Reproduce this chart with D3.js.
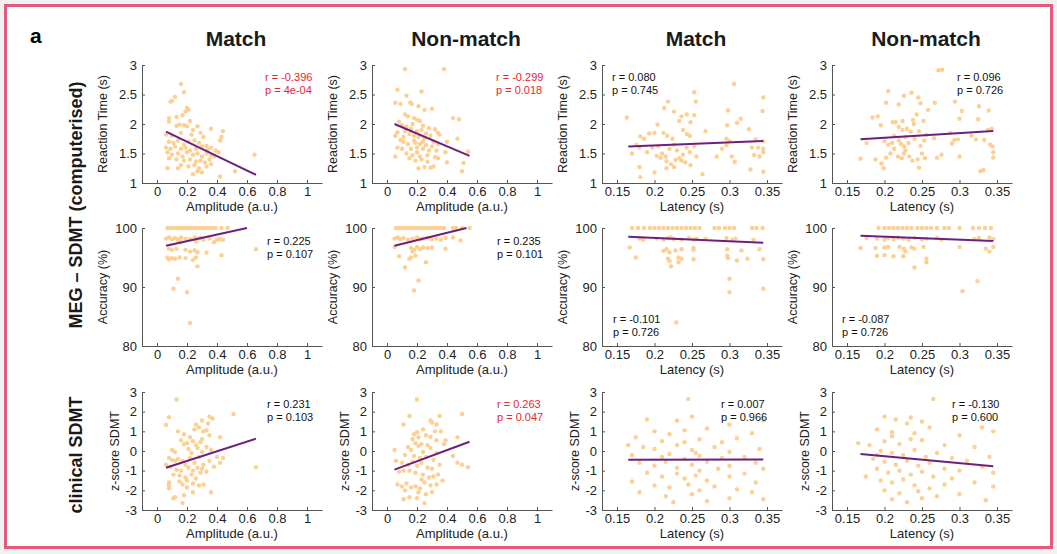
<!DOCTYPE html>
<html>
<head>
<meta charset="utf-8">
<script src="https://cdn.jsdelivr.net/npm/d3@7"></script>
<style>
	body { margin: 0; background: #fff; }
	text { font-family: Arial, "Liberation Sans", sans-serif; }
</style>
</head>
<body>
<svg id="svg_elem"></svg>
<script>
//labels
const colTitles = ['Match', 'Non-match', 'Match', 'Non-match'];
const rowTitles = ['MEG \u2013 SDMT (computerised)', 'clinical SDMT'];
const xLabels = ['Amplitude (a.u.)', 'Amplitude (a.u.)', 'Latency (s)', 'Latency (s)'];
const yLabels = ['Reaction Time (s)', 'Accuracy (%)', 'z-score SDMT'];

//tick values
const ampTicks = [0, 0.2, 0.4, 0.6, 0.8, 1];
const latTicks = [0.15, 0.2, 0.25, 0.3, 0.35];
const rtTicks = [1, 1.5, 2, 2.5, 3];
const accTicks = [80, 90, 100];
const zTicks = [-3, -2, -1, 0, 1, 2, 3];

//correlation stats
const rValues = [[-0.396, -0.299, 0.080, 0.096], [0.225, 0.235, -0.101, -0.087], [0.231, 0.263, 0.007, -0.130]];
const pValues = [['4e-04', '0.018', '0.745', '0.726'], ['0.107', '0.101', '0.726', '0.726'], ['0.103', '0.047', '0.966', '0.600']];

//fitted lines [x0, y0, x1, y1]
const fitLines = [
	[[0.06, 1.87, 0.66, 1.14], [0.05, 2.00, 0.55, 1.46], [0.165, 1.62, 0.345, 1.71], [0.168, 1.74, 0.345, 1.88]],
	[[0.06, 97.0, 0.60, 100.0], [0.05, 97.0, 0.53, 100.0], [0.165, 98.5, 0.345, 97.5], [0.168, 98.7, 0.345, 97.8]],
	[[0.06, -0.85, 0.66, 0.63], [0.05, -0.95, 0.55, 0.47], [0.165, -0.45, 0.345, -0.43], [0.168, -0.15, 0.345, -0.78]]
];

//scatter data [x, y]
const ampMatchRT = [[0.16,2.68],[0.18,2.54],[0.12,2.46],[0.09,2.38],[0.10,2.39],[0.20,2.27],[0.21,2.24],[0.19,2.21],[0.17,2.15],[0.08,2.10],[0.08,2.04],[0.13,2.12],[0.22,2.05],[0.15,1.99],[0.18,1.98],[0.20,1.96],[0.13,1.97],[0.24,1.90],[0.27,1.96],[0.36,1.92],[0.44,1.88],[0.43,1.78],[0.06,1.82],[0.10,1.80],[0.16,1.85],[0.23,1.82],[0.29,1.85],[0.31,1.78],[0.42,1.72],[0.08,1.70],[0.11,1.68],[0.14,1.72],[0.18,1.65],[0.21,1.70],[0.25,1.72],[0.28,1.68],[0.33,1.63],[0.36,1.60],[0.06,1.60],[0.09,1.58],[0.12,1.62],[0.16,1.58],[0.19,1.60],[0.22,1.55],[0.26,1.58],[0.30,1.62],[0.34,1.57],[0.39,1.55],[0.07,1.52],[0.10,1.48],[0.14,1.50],[0.17,1.45],[0.20,1.52],[0.24,1.48],[0.27,1.50],[0.30,1.45],[0.33,1.50],[0.36,1.47],[0.41,1.52],[0.65,1.48],[0.08,1.42],[0.13,1.40],[0.18,1.38],[0.22,1.40],[0.26,1.36],[0.29,1.38],[0.32,1.35],[0.35,1.40],[0.16,1.30],[0.21,1.28],[0.25,1.30],[0.28,1.25],[0.33,1.28],[0.36,1.32],[0.07,1.25],[0.14,1.25],[0.24,1.15],[0.27,1.20],[0.30,1.18],[0.42,1.11],[0.52,1.20],[0.38,1.45]];
const ampNonMatchRT = [[0.12,2.93],[0.38,2.93],[0.07,2.58],[0.13,2.48],[0.23,2.55],[0.055,2.36],[0.09,2.34],[0.155,2.36],[0.165,2.34],[0.21,2.30],[0.25,2.24],[0.30,2.26],[0.12,2.16],[0.14,2.13],[0.18,2.10],[0.20,2.07],[0.22,2.05],[0.08,2.04],[0.44,2.10],[0.48,2.08],[0.10,1.98],[0.13,1.96],[0.17,2.00],[0.24,1.97],[0.28,1.93],[0.32,1.91],[0.34,1.85],[0.35,1.82],[0.07,1.86],[0.15,1.83],[0.18,1.80],[0.21,1.78],[0.25,1.76],[0.29,1.80],[0.055,1.80],[0.09,1.73],[0.11,1.70],[0.14,1.66],[0.19,1.68],[0.22,1.66],[0.26,1.64],[0.31,1.70],[0.34,1.66],[0.47,1.75],[0.40,1.70],[0.39,1.52],[0.54,1.53],[0.055,1.45],[0.13,1.50],[0.17,1.47],[0.20,1.52],[0.22,1.45],[0.27,1.47],[0.32,1.44],[0.34,1.42],[0.07,1.60],[0.10,1.58],[0.16,1.58],[0.20,1.60],[0.24,1.58],[0.28,1.55],[0.21,1.25],[0.25,1.27],[0.29,1.26],[0.31,1.28],[0.51,1.34],[0.50,1.20],[0.40,1.35],[0.19,1.38],[0.23,1.40],[0.15,1.42],[0.27,1.36],[0.30,1.62],[0.12,1.88],[0.16,1.92],[0.20,1.88],[0.26,1.84],[0.11,1.78],[0.24,1.70],[0.18,1.72],[0.33,1.55],[0.23,1.90]];
const latMatchRT = [[0.163,2.11],[0.306,2.68],[0.253,2.54],[0.255,2.38],[0.218,2.38],[0.213,2.27],[0.226,2.21],[0.236,2.13],[0.243,2.16],[0.233,2.05],[0.248,2.03],[0.253,2.15],[0.298,2.23],[0.315,2.09],[0.310,2.02],[0.297,1.98],[0.345,2.45],[0.344,2.22],[0.326,1.91],[0.204,1.99],[0.193,1.84],[0.181,1.79],[0.186,1.75],[0.176,1.65],[0.200,1.85],[0.212,1.85],[0.217,1.80],[0.224,1.75],[0.238,1.90],[0.243,1.83],[0.247,1.80],[0.268,1.88],[0.296,1.75],[0.300,1.71],[0.335,1.74],[0.345,1.71],[0.180,1.60],[0.190,1.52],[0.170,1.50],[0.197,1.60],[0.205,1.62],[0.210,1.50],[0.215,1.45],[0.220,1.58],[0.226,1.65],[0.230,1.55],[0.233,1.42],[0.238,1.48],[0.243,1.60],[0.247,1.52],[0.253,1.62],[0.256,1.45],[0.203,1.46],[0.208,1.43],[0.216,1.37],[0.222,1.32],[0.228,1.39],[0.236,1.38],[0.241,1.35],[0.248,1.30],[0.226,1.27],[0.216,1.25],[0.200,1.18],[0.180,1.27],[0.181,1.10],[0.264,1.15],[0.283,1.45],[0.290,1.58],[0.296,1.64],[0.303,1.45],[0.307,1.36],[0.330,1.60],[0.333,1.47],[0.338,1.60],[0.340,1.45],[0.345,1.58],[0.345,1.52],[0.345,1.19],[0.328,1.23]];
const latNonMatchRT = [[0.272,2.91],[0.277,2.92],[0.205,2.56],[0.236,2.53],[0.245,2.45],[0.248,2.35],[0.219,2.33],[0.202,2.36],[0.226,2.48],[0.267,2.36],[0.258,2.24],[0.294,2.38],[0.300,2.09],[0.303,2.22],[0.326,2.30],[0.325,2.08],[0.339,2.23],[0.184,2.11],[0.191,2.13],[0.195,1.98],[0.211,2.03],[0.215,2.03],[0.224,2.05],[0.238,2.07],[0.243,2.16],[0.239,2.00],[0.252,2.05],[0.219,1.95],[0.224,1.90],[0.230,1.92],[0.235,1.87],[0.246,1.88],[0.176,1.68],[0.200,1.71],[0.205,1.65],[0.213,1.80],[0.219,1.72],[0.222,1.66],[0.228,1.78],[0.232,1.68],[0.240,1.75],[0.248,1.63],[0.253,1.72],[0.256,1.82],[0.266,1.76],[0.288,1.85],[0.293,1.73],[0.298,1.74],[0.316,1.80],[0.322,1.74],[0.333,1.73],[0.338,1.90],[0.343,1.92],[0.341,1.65],[0.344,1.62],[0.345,1.52],[0.345,1.43],[0.168,1.41],[0.188,1.40],[0.196,1.33],[0.199,1.25],[0.202,1.43],[0.208,1.50],[0.213,1.58],[0.218,1.45],[0.223,1.42],[0.228,1.55],[0.233,1.45],[0.237,1.38],[0.244,1.40],[0.250,1.50],[0.254,1.42],[0.226,1.50],[0.246,1.26],[0.270,1.43],[0.276,1.48],[0.300,1.45],[0.290,1.67],[0.328,1.20],[0.332,1.22],[0.226,1.62],[0.210,1.68]];

const ampMatchAcc = [[0.07,100],[0.08,100],[0.10,100],[0.11,100],[0.13,100],[0.14,100],[0.16,100],[0.17,100],[0.19,100],[0.20,100],[0.22,100],[0.23,100],[0.25,100],[0.26,100],[0.28,100],[0.29,100],[0.31,100],[0.32,100],[0.34,100],[0.35,100],[0.37,100],[0.39,100],[0.43,100],[0.47,100],[0.06,98.2],[0.08,98.4],[0.10,98.1],[0.12,98.3],[0.14,98.0],[0.16,98.4],[0.19,98.2],[0.22,98.1],[0.25,98.4],[0.27,98.2],[0.29,98.3],[0.31,98.0],[0.35,98.2],[0.38,97.6],[0.40,98.0],[0.42,98.1],[0.44,98.0],[0.16,97.6],[0.26,97.7],[0.08,96.5],[0.10,96.3],[0.13,96.5],[0.19,96.3],[0.22,96.0],[0.25,96.2],[0.27,95.9],[0.07,95.0],[0.08,94.7],[0.10,94.9],[0.12,94.8],[0.15,95.0],[0.19,94.9],[0.24,94.6],[0.26,95.0],[0.33,95.8],[0.43,95.4],[0.66,96.4],[0.27,93.5],[0.14,91.4],[0.11,89.7],[0.20,89.1],[0.22,83.9]];
const ampNonMatchAcc = [[0.06,100],[0.08,100],[0.10,100],[0.12,100],[0.14,100],[0.16,100],[0.18,100],[0.20,100],[0.22,100],[0.24,100],[0.26,100],[0.28,100],[0.30,100],[0.32,100],[0.34,100],[0.36,100],[0.38,100],[0.44,100],[0.46,100],[0.50,100],[0.55,100],[0.05,98.2],[0.07,98.4],[0.09,98.1],[0.11,98.3],[0.14,98.0],[0.17,98.2],[0.20,98.4],[0.22,98.1],[0.24,98.2],[0.27,98.3],[0.30,98.1],[0.33,98.2],[0.36,98.0],[0.39,98.3],[0.44,98.4],[0.49,97.9],[0.05,96.8],[0.16,96.6],[0.18,96.3],[0.20,96.8],[0.22,96.4],[0.24,96.7],[0.27,96.6],[0.30,96.7],[0.39,96.5],[0.17,96.0],[0.08,95.2],[0.16,95.0],[0.19,95.3],[0.15,94.8],[0.26,94.2],[0.12,93.3],[0.21,91.1],[0.18,89.4]];
const latMatchAcc = [[0.170,100],[0.178,100],[0.186,100],[0.194,100],[0.200,100],[0.206,100],[0.212,100],[0.218,100],[0.224,100],[0.230,100],[0.236,100],[0.242,100],[0.248,100],[0.254,100],[0.260,100],[0.280,100],[0.286,100],[0.294,100],[0.300,100],[0.306,100],[0.330,100],[0.336,100],[0.344,100],[0.180,98.2],[0.185,98.0],[0.203,98.2],[0.212,98.0],[0.218,98.3],[0.222,98.4],[0.226,98.1],[0.236,98.0],[0.246,98.3],[0.252,98.0],[0.256,98.2],[0.268,98.2],[0.296,98.3],[0.304,98.0],[0.308,98.2],[0.332,98.0],[0.167,96.7],[0.212,96.1],[0.216,96.4],[0.220,95.9],[0.228,96.2],[0.236,96.4],[0.252,96.6],[0.252,96.3],[0.297,96.4],[0.316,96.2],[0.340,96.4],[0.175,95.0],[0.218,94.8],[0.220,94.4],[0.232,95.0],[0.236,94.8],[0.232,94.2],[0.252,94.7],[0.297,95.3],[0.298,94.9],[0.310,94.5],[0.324,94.8],[0.345,94.7],[0.222,93.5],[0.300,91.4],[0.300,89.1],[0.345,89.7],[0.229,84.0]];
const latNonMatchAcc = [[0.192,100],[0.200,100],[0.206,100],[0.212,100],[0.218,100],[0.224,100],[0.230,100],[0.236,100],[0.244,100],[0.250,100],[0.256,100],[0.262,100],[0.270,100],[0.280,100],[0.286,100],[0.300,100],[0.318,100],[0.326,100],[0.334,100],[0.342,100],[0.176,98.3],[0.190,98.2],[0.200,98.0],[0.205,98.3],[0.212,98.1],[0.218,98.4],[0.225,98.2],[0.232,98.0],[0.240,98.3],[0.250,98.1],[0.256,98.2],[0.270,98.3],[0.276,98.0],[0.320,98.1],[0.326,98.3],[0.340,98.4],[0.345,98.1],[0.168,96.6],[0.188,96.6],[0.200,96.7],[0.205,96.8],[0.220,96.8],[0.226,96.5],[0.228,96.0],[0.236,96.7],[0.240,96.5],[0.252,96.8],[0.300,96.8],[0.335,96.5],[0.340,96.0],[0.345,96.8],[0.190,95.3],[0.200,95.4],[0.212,95.2],[0.225,95.2],[0.256,94.8],[0.256,94.2],[0.240,93.3],[0.324,91.0],[0.304,89.3]];

const ampMatchZ = [[0.13,2.62],[0.08,1.72],[0.06,1.32],[0.51,1.88],[0.35,1.75],[0.37,1.65],[0.34,1.4],[0.30,1.55],[0.26,1.35],[0.28,1.2],[0.33,1.05],[0.31,1.0],[0.25,1.1],[0.14,1.0],[0.18,0.85],[0.22,0.7],[0.20,0.4],[0.30,0.6],[0.29,0.45],[0.35,0.8],[0.42,0.7],[0.16,0.55],[0.18,0.35],[0.24,0.5],[0.26,0.3],[0.27,0.15],[0.33,0.2],[0.10,0.05],[0.12,-0.05],[0.21,0.1],[0.23,-0.1],[0.30,-0.05],[0.36,0.05],[0.40,-0.3],[0.44,-0.35],[0.42,-0.6],[0.08,-0.35],[0.10,-0.45],[0.12,-0.5],[0.14,-0.4],[0.17,-0.5],[0.19,-0.7],[0.22,-0.35],[0.25,-0.6],[0.28,-0.3],[0.31,-0.7],[0.35,-0.5],[0.66,-0.82],[0.06,-0.7],[0.09,-0.8],[0.13,-0.95],[0.16,-1.0],[0.21,-0.85],[0.24,-1.0],[0.27,-0.85],[0.30,-0.9],[0.33,-1.05],[0.38,-0.8],[0.11,-1.2],[0.15,-1.25],[0.19,-1.35],[0.23,-1.2],[0.26,-1.4],[0.29,-1.1],[0.20,-1.5],[0.17,-1.7],[0.20,-1.85],[0.24,-1.65],[0.28,-1.75],[0.31,-1.7],[0.08,-1.6],[0.08,-1.75],[0.08,-1.9],[0.15,-1.55],[0.24,-2.1],[0.36,-2.1],[0.11,-2.4],[0.12,-2.35],[0.18,-2.25],[0.17,-2.65]];
const ampNonMatchZ = [[0.20,2.62],[0.15,1.78],[0.35,1.78],[0.29,1.55],[0.30,1.45],[0.33,1.35],[0.11,1.35],[0.50,1.88],[0.24,1.1],[0.20,0.95],[0.18,0.85],[0.26,0.8],[0.32,1.0],[0.36,1.0],[0.21,0.7],[0.29,0.72],[0.33,0.55],[0.39,0.55],[0.38,0.35],[0.47,0.7],[0.17,0.6],[0.19,0.4],[0.23,0.35],[0.27,0.3],[0.14,0.2],[0.16,0.05],[0.21,0.25],[0.24,-0.05],[0.29,0.15],[0.33,-0.1],[0.05,0.05],[0.12,-0.2],[0.18,-0.25],[0.22,-0.35],[0.26,-0.3],[0.31,-0.45],[0.44,-0.25],[0.06,-0.5],[0.10,-0.6],[0.14,-0.7],[0.17,-0.55],[0.20,-0.75],[0.23,-0.6],[0.27,-0.85],[0.30,-0.9],[0.35,-0.7],[0.47,-0.6],[0.50,-0.7],[0.54,-0.82],[0.08,-1.05],[0.11,-1.0],[0.15,-1.0],[0.19,-1.1],[0.24,-1.2],[0.28,-1.35],[0.31,-1.3],[0.37,-1.5],[0.34,-1.2],[0.07,-1.7],[0.10,-1.8],[0.13,-1.65],[0.16,-1.85],[0.19,-1.8],[0.22,-1.9],[0.25,-1.6],[0.29,-1.75],[0.33,-1.7],[0.12,-2.0],[0.21,-2.1],[0.26,-2.2],[0.30,-2.1],[0.11,-2.45],[0.15,-2.35],[0.20,-2.4],[0.25,-2.65],[0.23,-1.45]];
const latMatchZ = [[0.245,2.65],[0.19,1.6],[0.23,1.55],[0.25,1.75],[0.30,1.35],[0.27,1.15],[0.20,1.0],[0.22,0.85],[0.24,1.05],[0.345,1.55],[0.33,0.9],[0.175,0.7],[0.21,0.5],[0.26,0.6],[0.29,0.45],[0.31,0.65],[0.185,0.2],[0.20,0.1],[0.23,0.3],[0.25,0.05],[0.28,0.2],[0.30,-0.05],[0.34,0.1],[0.17,-0.2],[0.21,-0.3],[0.22,-0.15],[0.24,-0.4],[0.26,-0.25],[0.27,-0.55],[0.29,-0.35],[0.32,-0.3],[0.335,-0.6],[0.18,-0.6],[0.20,-0.75],[0.215,-0.55],[0.23,-0.85],[0.25,-0.7],[0.26,-1.0],[0.285,-0.9],[0.30,-0.75],[0.345,-0.9],[0.19,-1.1],[0.21,-1.3],[0.23,-1.15],[0.24,-1.4],[0.255,-1.25],[0.27,-1.5],[0.30,-1.3],[0.32,-1.15],[0.17,-1.55],[0.20,-1.75],[0.22,-1.85],[0.245,-1.7],[0.26,-2.0],[0.28,-1.8],[0.31,-1.95],[0.335,-1.6],[0.18,-2.1],[0.215,-2.3],[0.25,-2.2],[0.30,-2.4],[0.345,-2.45],[0.225,-2.6],[0.27,-2.55],[0.24,0.45],[0.255,-0.1],[0.165,0.3],[0.33,-2.1]];
const latNonMatchZ = [[0.265,2.65],[0.235,1.7],[0.215,1.6],[0.20,1.75],[0.23,1.4],[0.26,1.2],[0.19,1.1],[0.21,0.95],[0.24,0.9],[0.30,0.8],[0.33,1.2],[0.345,1.0],[0.165,0.4],[0.18,0.3],[0.20,0.5],[0.22,0.35],[0.25,0.55],[0.28,0.3],[0.32,0.2],[0.195,0.0],[0.21,-0.1],[0.225,-0.2],[0.24,0.05],[0.255,-0.3],[0.27,-0.1],[0.29,-0.35],[0.31,-0.5],[0.34,-0.3],[0.185,-0.4],[0.20,-0.55],[0.215,-0.7],[0.23,-0.5],[0.245,-0.75],[0.26,-0.6],[0.28,-0.9],[0.30,-1.0],[0.33,-0.8],[0.345,-1.1],[0.19,-0.9],[0.205,-1.1],[0.22,-1.0],[0.235,-1.2],[0.25,-1.05],[0.265,-1.3],[0.29,-1.4],[0.32,-1.6],[0.175,-1.3],[0.195,-1.5],[0.21,-1.6],[0.225,-1.45],[0.24,-1.75],[0.26,-1.9],[0.28,-1.7],[0.345,-1.8],[0.20,-2.0],[0.22,-2.15],[0.245,-2.05],[0.27,-2.3],[0.335,-2.5],[0.23,-2.6],[0.21,-2.45],[0.25,-2.4],[0.30,-2.2],[0.19,-0.2],[0.235,0.6],[0.25,1.5],[0.21,0.75]];

const panelData = [
	[ampMatchRT, ampNonMatchRT, latMatchRT, latNonMatchRT],
	[ampMatchAcc, ampNonMatchAcc, latMatchAcc, latNonMatchAcc],
	[ampMatchZ, ampNonMatchZ, latMatchZ, latNonMatchZ]
];

//layout
const svgWidth = 1057;
const svgHeight = 554;
const colLeft = [142, 372, 602, 832];
const rowTop = [65, 228, 392];
const plotW = 180;
const plotH = 118;
const dotColor = '#fccf92';
const lineColor = '#6d1f7e';
const sigColor = '#e8262f';
//stat text position relative to panel [dx, dy]
const statPos = [
	[[123, 16], [124, 16], [10, 16], [125, 16]],
	[[125, 17], [125, 17], [11, 95], [10, 95]],
	[[125, 16], [125, 16], [119, 16], [120, 16]]
];
const yLabelOffset = [35, 35, 23];

const svg = d3.select('#svg_elem')
	.attr('width', svgWidth)
	.attr('height', svgHeight);

svg.append('rect')
	.attr('x', 0).attr('y', 0)
	.attr('width', svgWidth).attr('height', svgHeight)
	.attr('fill', '#f2f2f2');
svg.append('rect')
	.attr('x', 5.5).attr('y', 5.5)
	.attr('width', 1046).attr('height', 542)
	.attr('fill', '#fff')
	.attr('stroke', '#e35a7c')
	.attr('stroke-width', 3);

svg.append('text')
	.attr('x', 30).attr('y', 43)
	.attr('font-size', 21).attr('font-weight', 'bold')
	.text('a');

//column titles
svg.selectAll('.col_title')
	.data(colTitles)
	.enter()
	.append('text')
		.attr('x', (d, i) => colLeft[i] + plotW / 2 + 4)
		.attr('y', 46)
		.attr('text-anchor', 'middle')
		.attr('font-size', 21)
		.attr('font-weight', 'bold')
		.attr('fill', '#1a1a1a')
		.text(d => d);

//row titles
const rowTitleY = [205, 455];
rowTitles.forEach((t, i) => {
	svg.append('text')
		.attr('transform', `translate(82, ${rowTitleY[i]}) rotate(-90)`)
		.attr('text-anchor', 'middle')
		.attr('font-size', 18)
		.attr('font-weight', 'bold')
		.attr('fill', '#1a1a1a')
		.text(t);
});

function xScaleFor(col){
	if(col < 2){
		return d3.scaleLinear().domain([-0.1, 1.1]).range([0, plotW]);
	}
	return d3.scaleLinear().domain([0.13, 0.37]).range([0, plotW]);
}

function yScaleFor(row){
	const dom = [[1, 3], [80, 100], [-3, 3]][row];
	return d3.scaleLinear().domain(dom).range([plotH, 0]);
}

//draw one scatter panel
function drawPanel(row, col){
	const x = xScaleFor(col);
	const y = yScaleFor(row);
	const g = svg.append('g')
		.attr('transform', `translate(${colLeft[col]}, ${rowTop[row]})`);

	const xAxis = d3.axisBottom(x)
		.tickValues(col < 2 ? ampTicks : latTicks)
		.tickFormat(d => String(d))
		.tickSizeInner(-3)
		.tickSizeOuter(0)
		.tickPadding(4);
	const yAxis = d3.axisLeft(y)
		.tickValues([rtTicks, accTicks, zTicks][row])
		.tickFormat(d => String(d))
		.tickSizeInner(-3)
		.tickSizeOuter(0)
		.tickPadding(5);

	const gx = g.append('g')
		.attr('transform', `translate(0, ${plotH})`)
		.call(xAxis);
	const gy = g.append('g').call(yAxis);
	[gx, gy].forEach(a => {
		a.select('.domain').attr('stroke', '#555');
		a.selectAll('.tick line').attr('stroke', '#555');
		a.selectAll('.tick text')
			.attr('font-size', 13)
			.attr('fill', '#222')
			.style('font-family', 'Arial, "Liberation Sans", sans-serif');
	});

	//axis labels
	g.append('text')
		.attr('x', plotW / 2)
		.attr('y', plotH + 28)
		.attr('text-anchor', 'middle')
		.attr('font-size', 13)
		.attr('fill', '#222')
		.text(xLabels[col]);
	g.append('text')
		.attr('transform', `translate(${-yLabelOffset[row]}, ${plotH / 2}) rotate(-90)`)
		.attr('text-anchor', 'middle')
		.attr('font-size', 12.5)
		.attr('fill', '#222')
		.text(yLabels[row]);

	//points
	g.selectAll('.dot')
		.data(panelData[row][col])
		.enter()
		.append('circle')
			.classed('dot', true)
			.attr('cx', d => x(d[0]))
			.attr('cy', d => y(d[1]))
			.attr('r', 2.2)
			.attr('fill', dotColor);

	//fit line
	const f = fitLines[row][col];
	g.append('line')
		.attr('x1', x(f[0])).attr('y1', y(f[1]))
		.attr('x2', x(f[2])).attr('y2', y(f[3]))
		.attr('stroke', lineColor)
		.attr('stroke-width', 2);

	//stats
	const sig = parseFloat(pValues[row][col]) < 0.05;
	const pos = statPos[row][col];
	const st = g.append('text')
		.attr('font-size', 11)
		.attr('fill', sig ? sigColor : '#111');
	st.append('tspan')
		.attr('x', pos[0]).attr('y', pos[1])
		.text(`r = ${rValues[row][col].toFixed(3)}`);
	st.append('tspan')
		.attr('x', pos[0]).attr('y', pos[1] + 12.5)
		.text(`p = ${pValues[row][col]}`);
}

for(let r = 0; r < 3; r++){
	for(let c = 0; c < 4; c++){
		drawPanel(r, c);
	}
}
</script>
</body>
</html>
